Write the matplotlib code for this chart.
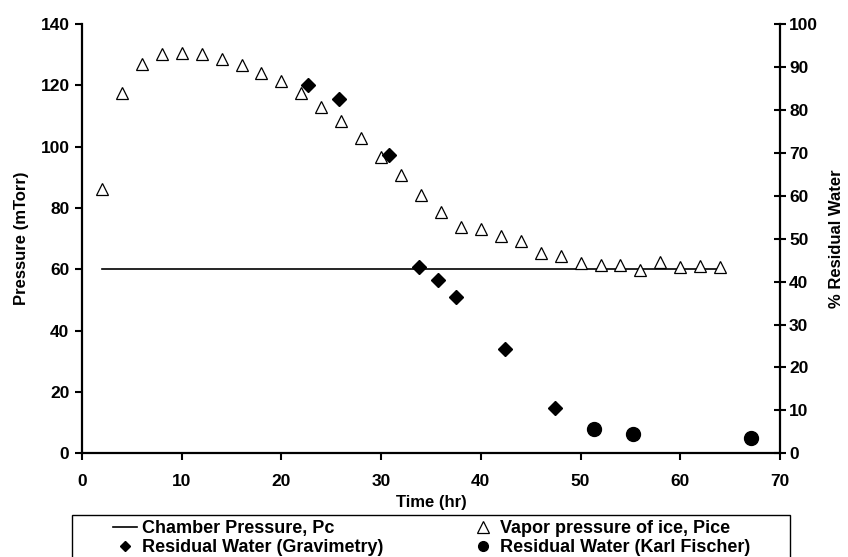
import matplotlib
matplotlib.use("Agg")
import matplotlib.pyplot as plt
from matplotlib.lines import Line2D
from matplotlib.patches import Rectangle

# vapor pressure of ice (mTorr), every 2 h
t_ice = [2, 4, 6, 8, 10, 12, 14, 16, 18, 20, 22, 24, 26, 28, 30, 32,
         34, 36, 38, 40, 42, 44, 46, 48, 50, 52, 54, 56, 58, 60, 62, 64]
p_ice = [86.2, 117.6, 126.9, 130.2, 130.4, 130.2, 128.7, 126.6, 124.1, 121.4,
         117.6, 113.0, 108.4, 102.7, 96.5, 90.7, 84.2, 78.8, 73.7, 73.1,
         70.9, 69.3, 65.2, 64.4, 61.9, 61.4, 61.4, 59.8, 62.5, 60.8, 61.2, 60.8]

# chamber pressure
t_pc = [2, 64]
p_pc = [60, 60]

# residual water, % (right axis)
t_grav = [22.7, 25.8, 30.8, 33.8, 35.7, 37.5, 42.4, 47.4]
w_grav = [85.8, 82.6, 69.5, 43.4, 40.3, 36.4, 24.4, 10.6]
t_kf = [51.3, 55.3, 67.1]
w_kf = [5.6, 4.5, 3.6]

plt.rcParams["font.family"] = "Liberation Sans"
plt.rcParams["font.weight"] = "bold"

fig = plt.figure(figsize=(8.48, 5.57), dpi=100)
ax = fig.add_axes([82 / 848, 1 - 453.3 / 557, (780 - 82) / 848, (453.3 - 24) / 557])
ax2 = ax.twinx()

ax.plot(t_pc, p_pc, color="black", lw=1.2)
ax.plot(t_ice, p_ice, ls="none", marker="^", ms=9, mfc="white", mec="black", mew=0.9)
ax2.plot(t_grav, w_grav, ls="none", marker="D", ms=6.8, color="black")
ax2.plot(t_kf, w_kf, ls="none", marker="o", ms=10, color="black")

ax.set_xlim(0, 70)
ax.set_ylim(0, 140)
ax2.set_ylim(0, 100)
ax.set_xticks(range(0, 71, 10))
ax.set_yticks(range(0, 141, 20))
ax2.set_yticks(range(0, 101, 10))

for a in (ax, ax2):
    a.spines["top"].set_visible(False)
    for s in a.spines.values():
        s.set_linewidth(1.6)
ax.spines["right"].set_visible(False)
ax2.spines["left"].set_visible(False)
ax2.spines["bottom"].set_visible(False)

ax.tick_params(axis="both", direction="out", length=5, width=1.5, labelsize=12.5, pad=4)
ax.tick_params(axis="x", pad=10)
ax2.tick_params(axis="y", direction="inout", length=9, width=1.5, labelsize=12.5, pad=2)

ax.set_xlabel("Time (hr)", fontsize=12, fontweight="bold", labelpad=4)
ax.set_ylabel("Pressure (mTorr)", fontsize=12, fontweight="bold", labelpad=8)
ax2.set_ylabel("% Residual Water", fontsize=12, fontweight="bold", labelpad=8)

# legend: two columns placed separately, frame drawn by hand (cut by the bottom edge)
h_pc = Line2D([], [], color="black", lw=1.2)
h_grav = Line2D([], [], ls="none", marker="D", ms=5, color="black")
h_ice = Line2D([], [], ls="none", marker="^", ms=8, mfc="white", mec="black", mew=0.9)
h_kf = Line2D([], [], ls="none", marker="o", ms=7, color="black")

leg_kw = dict(loc="upper left", frameon=False, borderpad=0,
              borderaxespad=0, labelspacing=0.12, handlelength=1.33,
              handletextpad=0.26, prop={"weight": "bold", "size": 13})
fig.legend([h_pc, h_grav], ["Chamber Pressure, Pc", "Residual Water (Gravimetry)"],
           bbox_to_anchor=(113 / 848, 1 - 520 / 557), **leg_kw)
fig.legend([h_ice, h_kf], ["Vapor pressure of ice, Pice", "Residual Water (Karl Fischer)"],
           bbox_to_anchor=(471 / 848, 1 - 520 / 557), **leg_kw)
fig.add_artist(Rectangle((72 / 848, -0.02), (790 - 72) / 848, (557 - 515) / 557 + 0.02,
                         transform=fig.transFigure, fill=False, lw=1.0,
                         edgecolor="black"))

fig.savefig("out.png", dpi=100)
